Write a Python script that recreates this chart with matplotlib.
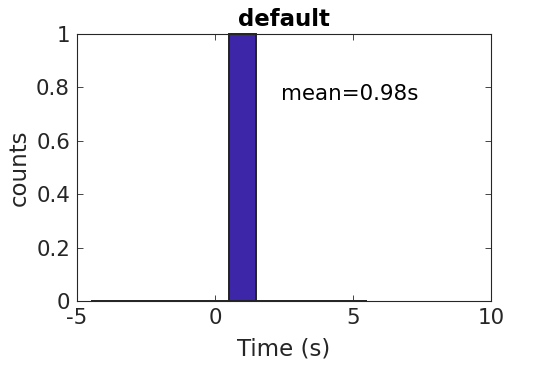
import matplotlib
matplotlib.use("Agg")
import matplotlib.pyplot as plt
import numpy as np

# histogram
bin_edges = np.arange(-4.5, 6.0, 1.0)
counts = [0, 0, 0, 0, 0, 1, 0, 0, 0, 0]
mean_time = 0.98

bar_color = "#3E26A8"
ink = "#262626"

plt.rcParams["axes.unicode_minus"] = False

fig = plt.figure(figsize=(5.42, 3.65), dpi=100)
ax = fig.add_axes([0.142, 0.175, 0.764, 0.732])

ax.bar(bin_edges[:-1], counts, width=np.diff(bin_edges), align="edge",
       color=bar_color, edgecolor="#222222", linewidth=1.4, clip_on=False)

ax.set_xlim(-5, 10)
ax.set_ylim(0, 1)
ax.set_xticks([-5, 0, 5, 10])
ax.set_yticks([0, 0.2, 0.4, 0.6, 0.8, 1])
ax.set_yticklabels(["0", "0.2", "0.4", "0.6", "0.8", "1"])
ax.tick_params(direction="in", top=True, right=True, labelsize=15.4,
               colors=ink, length=4, width=0.6, pad=5)
for s in ax.spines.values():
    s.set_color(ink)
    s.set_linewidth(0.8)

ax.set_xlabel("Time (s)", fontsize=16.5, color=ink, labelpad=7)
ax.set_ylabel("counts", fontsize=16.5, color=ink, labelpad=4)
ax.set_title("default", fontsize=16.5, fontweight="bold", pad=6)
ax.text(2.4, 0.775, "mean=%.2fs" % mean_time, fontsize=15.4, va="center")

fig.savefig("out.png", dpi=100)
